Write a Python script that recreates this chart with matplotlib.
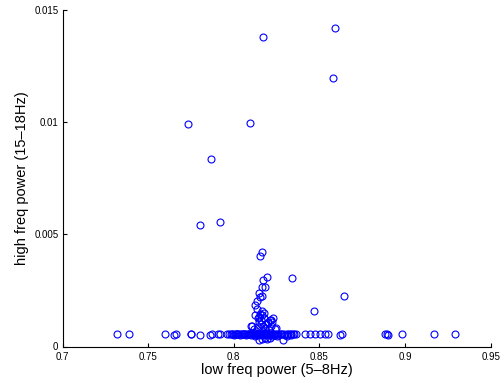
import matplotlib
matplotlib.use('Agg')
from matplotlib import pyplot as plt

plt.rcParams['font.family'] = ['Liberation Sans', 'DejaVu Sans']

# isolated points above the band
top_x = [0.8589, 0.8172, 0.8579, 0.7732, 0.8092, 0.7866, 0.7804, 0.7919,
         0.8162, 0.8155, 0.8196, 0.8170, 0.8338, 0.8643, 0.8466]
top_y = [0.01416, 0.01379, 0.01193, 0.00990, 0.00994, 0.00833, 0.00542, 0.00552,
         0.00422, 0.00402, 0.00310, 0.00298, 0.00307, 0.00226, 0.00156]

# vertical spread near 0.815
mid_x = [0.8182, 0.8166, 0.8148, 0.8151, 0.8164, 0.8135, 0.8125, 0.8136, 0.8125,
         0.8162, 0.8174, 0.8141, 0.8230, 0.8217, 0.8200, 0.8098, 0.8248, 0.8145,
         0.8165, 0.8155, 0.8175, 0.8105, 0.8120, 0.8140, 0.8150, 0.8157, 0.8160,
         0.8170, 0.8180, 0.8190, 0.8200, 0.8205, 0.8210, 0.8220, 0.8226, 0.8240,
         0.8130, 0.8162, 0.8186]
mid_y = [0.00267, 0.00267, 0.00237, 0.00221, 0.00224, 0.00202, 0.00183, 0.00166, 0.00142,
         0.00157, 0.00150, 0.00129, 0.00128, 0.00116, 0.00110, 0.00090, 0.00083, 0.00130,
         0.00140, 0.00145, 0.00125, 0.00092, 0.00080, 0.00088, 0.00108, 0.00100, 0.00118,
         0.00090, 0.00082, 0.00100, 0.00106, 0.00072, 0.00118, 0.00092, 0.00108, 0.00078,
         0.00070, 0.00068, 0.00062]

# points below the band
low_x = [0.8150, 0.8166, 0.8180, 0.8195, 0.8210, 0.8285, 0.8125, 0.8225, 0.8250,
         0.8310, 0.8335]
low_y = [0.00030, 0.00035, 0.00040, 0.00034, 0.00040, 0.00030, 0.00045, 0.00045,
         0.00046, 0.00045, 0.00050]

# main band
band_x = [0.7317, 0.7391, 0.7598, 0.7650, 0.7660, 0.7748, 0.7752, 0.7804, 0.7859,
          0.7872, 0.7907, 0.7921,
          0.7963, 0.7972, 0.7984, 0.7991, 0.7996, 0.8002, 0.8007, 0.8011, 0.8016,
          0.8021, 0.8027, 0.8031, 0.8036, 0.8042, 0.8046, 0.8051, 0.8057, 0.8062,
          0.8066, 0.8071, 0.8077, 0.8082, 0.8086, 0.8091, 0.8096, 0.8101, 0.8106,
          0.8111, 0.8116, 0.8121, 0.8126, 0.8131, 0.8136, 0.8141, 0.8146, 0.8151,
          0.8156, 0.8161, 0.8166, 0.8171, 0.8176, 0.8181, 0.8186, 0.8191, 0.8196,
          0.8201, 0.8206, 0.8211, 0.8216, 0.8222, 0.8227, 0.8233, 0.8239, 0.8246,
          0.8253, 0.8261, 0.8268, 0.8276, 0.8284, 0.8292, 0.8301, 0.8310, 0.8318,
          0.8327, 0.8336, 0.8344, 0.8352, 0.8362,
          0.8413, 0.8443, 0.8472, 0.8501, 0.8530, 0.8550, 0.8618, 0.8634,
          0.8881, 0.8895, 0.8903, 0.8982, 0.9167, 0.9290]
band_y = [0.00057, 0.00057, 0.00057, 0.00050, 0.00057, 0.00057, 0.00056, 0.00053, 0.00053,
          0.00057, 0.00055, 0.00057,
          0.00055, 0.00056, 0.00054, 0.00057, 0.00055, 0.00053, 0.00056, 0.00055, 0.00057,
          0.00054, 0.00056, 0.00055, 0.00053, 0.00057, 0.00055, 0.00056, 0.00054, 0.00057,
          0.00055, 0.00053, 0.00056, 0.00057, 0.00054, 0.00055, 0.00056, 0.00053, 0.00057,
          0.00055, 0.00054, 0.00056, 0.00058, 0.00052, 0.00055, 0.00057, 0.00053, 0.00056,
          0.00054, 0.00058, 0.00052, 0.00056, 0.00055, 0.00057, 0.00053, 0.00055, 0.00058,
          0.00054, 0.00056, 0.00052, 0.00057, 0.00055, 0.00054, 0.00056, 0.00053, 0.00057,
          0.00055, 0.00052, 0.00056, 0.00054, 0.00057, 0.00055, 0.00053, 0.00056, 0.00055,
          0.00054, 0.00056, 0.00055, 0.00057, 0.00054,
          0.00055, 0.00054, 0.00054, 0.00057, 0.00056, 0.00057, 0.00052, 0.00055,
          0.00057, 0.00055, 0.00053, 0.00055, 0.00054, 0.00056]

x = top_x + mid_x + low_x + band_x
y = top_y + mid_y + low_y + band_y

fig = plt.figure(figsize=(5.03, 3.85), dpi=100)
ax = fig.add_axes([62.5 / 503, 1 - 346.5 / 385, 428.2 / 503, 337 / 385])
ax.plot(x, y, 'o', mfc='none', mec=(0, 0, 1), ms=5, mew=0.8, ls='none')

ax.set_xlim(0.7, 0.95)
ax.set_ylim(0, 0.015)
ax.set_xticks([0.7, 0.75, 0.8, 0.85, 0.9, 0.95])
ax.set_xticklabels(['0.7', '0.75', '0.8', '0.85', '0.9', '0.95'])
ax.set_yticks([0, 0.005, 0.01, 0.015])
ax.set_yticklabels(['0', '0.005', '0.01', '0.015'])
ax.tick_params(direction='in', length=3, width=0.8, labelsize=7)
ax.tick_params(axis='x', pad=4)
ax.tick_params(axis='y', pad=3)
for s in ['top', 'right']:
    ax.spines[s].set_visible(False)
for s in ['left', 'bottom']:
    ax.spines[s].set_linewidth(0.8)

ax.set_xlabel('low freq power (5\u20138Hz)', fontsize=10.5, labelpad=1)
ax.set_ylabel('high freq power (15\u201318Hz)', fontsize=10.5, labelpad=4)

fig.savefig('out.png', dpi=100)
